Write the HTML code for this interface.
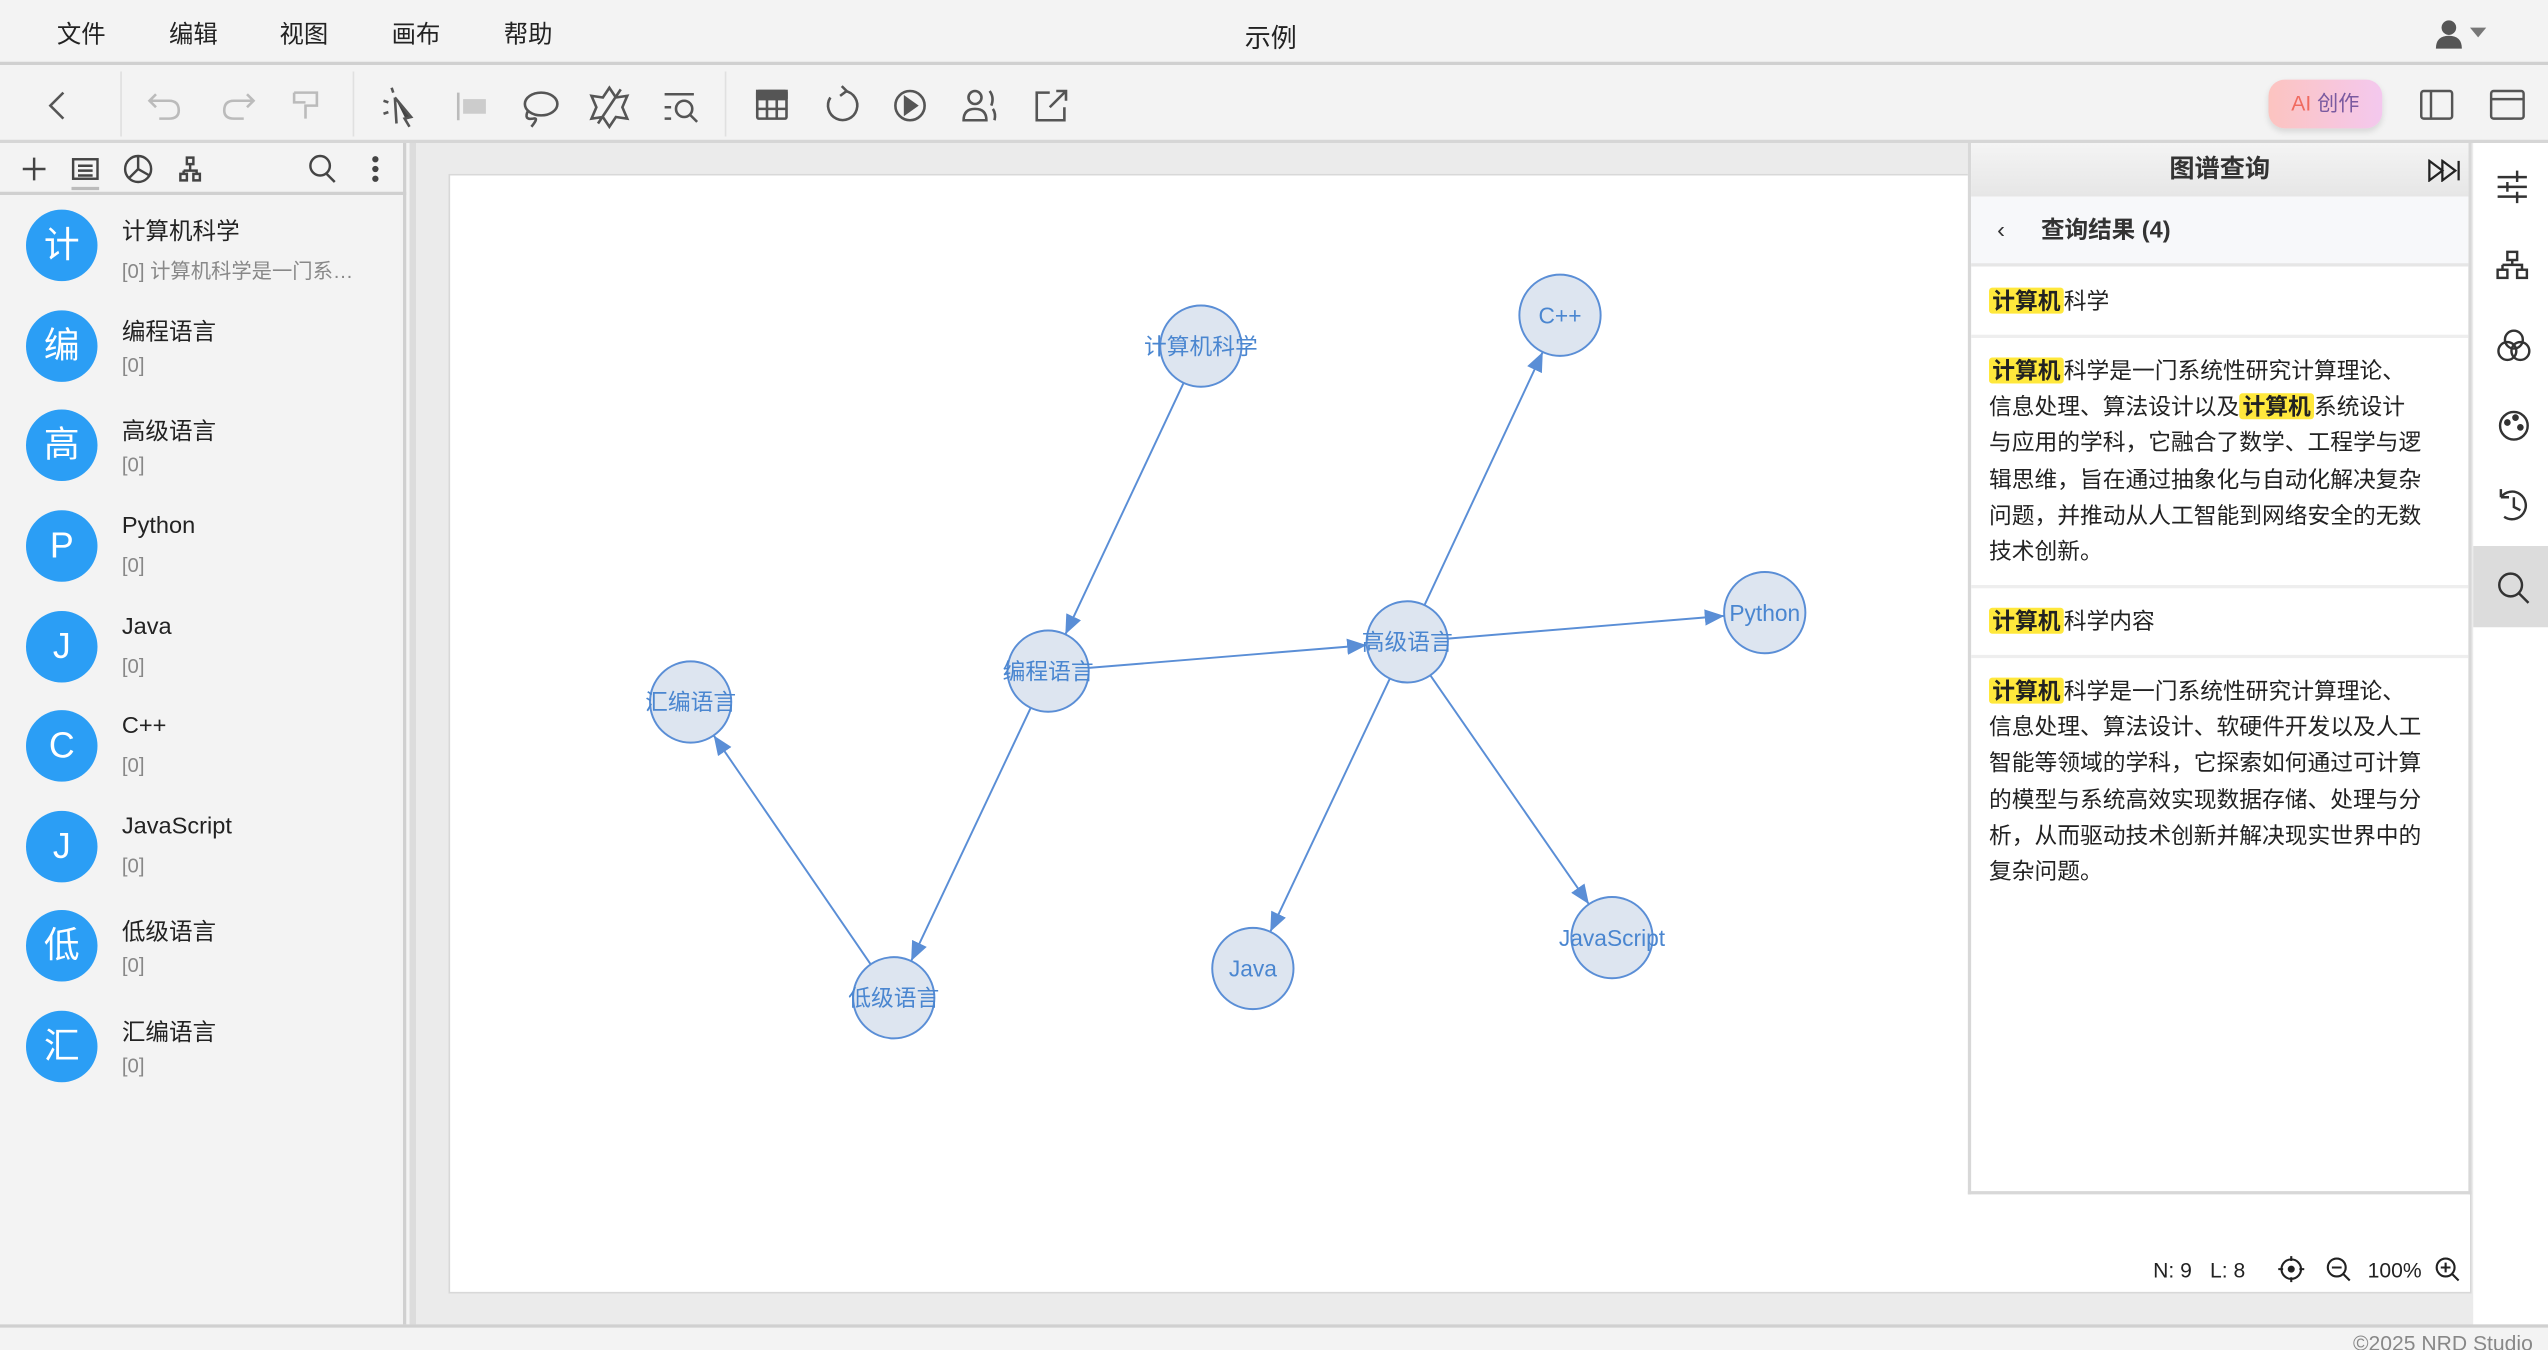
<!DOCTYPE html>
<html><head><meta charset="utf-8">
<style>
*{box-sizing:border-box;margin:0;padding:0}
html,body{width:2548px;height:1350px;overflow:hidden;background:#f3f3f3}
#root{position:absolute;left:0;top:0;width:1568px;height:831px;transform:scale(1.625);transform-origin:0 0;font-family:"Liberation Sans","Noto Sans CJK SC",sans-serif;color:#222;background:#f3f3f3}
.abs{position:absolute}
.menu span{position:absolute;top:10px;font-size:15px}
.ic{position:absolute;color:#444;font-size:18px}
.item{position:absolute;left:0;width:250px;height:62px}
.av{position:absolute;left:16px;top:8px;width:44px;height:44px;border-radius:50%;background:#2b9ef5;color:#fff;font-size:22px;text-align:center;line-height:44px}
.nm{position:absolute;left:75px;top:10px;font-size:14.5px;color:#222}
.sb{position:absolute;left:75px;top:35px;font-size:12.5px;color:#888;white-space:nowrap}
.hl{background:#ffe83c;font-weight:bold;border-radius:2px;padding:0 2px}
.qp{font-size:14px;line-height:22.2px;color:#222}
.rs{position:absolute;left:1534px;width:26px;height:26px}
</style></head><body><div id="root">
<!-- menu -->
<div class="abs menu" style="left:0;top:0;width:1568px;height:40px;border-bottom:2px solid #d0d0d0">
<span style="left:35px">文件</span><span style="left:104px">编辑</span><span style="left:172px">视图</span><span style="left:241px">画布</span><span style="left:310px">帮助</span>
<span style="left:766px;font-size:16px">示例</span>
<svg class="abs" style="left:1498px;top:12px" width="34" height="18"><circle cx="9" cy="5" r="4.5" fill="#555"/><path d="M1 18 Q1 10 9 10 Q17 10 17 18Z" fill="#555"/><path d="M22 5 L32 5 L27 11Z" fill="#777"/></svg>
</div>
<!-- toolbar -->
<div class="abs" style="left:0;top:40px;width:1568px;height:48px;border-bottom:2px solid #d6d6d6">
<div class="abs" style="left:74px;top:4px;width:1px;height:40px;background:#e0e0e0"></div>
<div class="abs" style="left:217px;top:4px;width:1px;height:40px;background:#e0e0e0"></div>
<div class="abs" style="left:446px;top:4px;width:1px;height:40px;background:#e0e0e0"></div>
<svg class="abs" style="left:0;top:0" width="700" height="48" fill="none" stroke="#555" stroke-width="1.6">
<path d="M39 17 L31 25 L39 33"/>
<g stroke="#bbb"><path d="M96 18 L92 22 L96 26 M92 22 L104 22 Q110 22 110 28 Q110 33 104 33 L98 33"/><path d="M152 18 L156 22 L152 26 M156 22 L144 22 Q138 22 138 28 Q138 33 144 33 L150 33"/><path d="M181 17 H195 V25 H188 V33 M181 17 V23 H188"/></g>
<path d="M243 20 L253 32 L249 33 L252 38 M243 20 L244 36" fill="#444"/><path d="M236 22 l3 1 M241 14 l1 3 M236 30 l3-1"/>
<g stroke="#bbb"><path d="M282 17 V34"/><rect x="285" y="21" width="14" height="9" fill="#ccc" stroke="none"/></g>
<ellipse cx="333" cy="24" rx="10" ry="7"/><path d="M325 28 Q322 34 328 33 Q332 32 327 38"/>
<path d="M375 14 L379 20 L386 19 L383 26 L386 33 L379 32 L375 38 L371 32 L364 33 L367 26 L364 19 L371 20Z M368 36 L382 15"/>
<path d="M409 18 H427 M409 26 H413 M409 33 H413"/><circle cx="421" cy="27" r="5"/><path d="M425 31 L429 35"/>
<rect x="466" y="16" width="18" height="17" rx="1"/><path d="M466 21 H484 M466 27 H484 M472 16 V33 M478 16 V33"/><rect x="466" y="16" width="18" height="4" fill="#555"/>
<path d="M520 16 A9 9 0 1 1 511 20"/><path d="M518 13 L521 16 L517 19"/>
<circle cx="560" cy="25" r="9"/><path d="M557 20 L564 25 L557 30Z" fill="#555"/>
<circle cx="600" cy="20" r="4"/><path d="M593 34 Q593 27 600 27 Q607 27 607 34Z M609 16 Q612 20 610 25 M611 27 Q613 30 612 34"/>
<path d="M646 17 H638 V34 H655 V26 M646 26 L656 16 M650 16 H656 V22"/>
</svg>
<div class="abs" style="left:1396px;top:9px;width:70px;height:30px;border-radius:10px;background:linear-gradient(90deg,#fcc4c0,#f4c8ee);box-shadow:0 2px 4px rgba(0,0,0,.12);font-size:13px;line-height:30px;text-align:center"><span style="color:#f06a5f">AI</span> <span style="color:#7a5aa0">创作</span></div>
<svg class="abs" style="left:1480px;top:0" width="88" height="48" fill="none" stroke="#555" stroke-width="1.5"><rect x="10" y="16" width="19" height="17" rx="1.5"/><path d="M16 16 V33"/><rect x="53" y="16" width="20" height="17" rx="1.5"/><path d="M53 21 H73"/></svg>
</div>
<!-- left panel -->
<div class="abs" style="left:0;top:88px;width:250px;height:727px;background:#f3f3f3;border-right:2px solid #d0d0d0">
<div class="abs" style="left:0;top:0;width:250px;height:32px;border-bottom:2px solid #d0d0d0"></div>
<svg class="abs" style="left:0;top:0" width="250" height="32" fill="none" stroke="#444" stroke-width="1.5"><path d="M14 16 H28 M21 9 V23"/><rect x="45" y="10" width="15" height="12"/><path d="M48 14 H57 M48 17 H57 M48 20 H57"/><rect x="44" y="27" width="17" height="2" fill="#bbb" stroke="none"/><circle cx="85" cy="16" r="8"/><path d="M85 8 V16 L92 20 M85 16 L79 22"/><path d="M115 9 h4 v4 h-4z M111 19 h4 v4 h-4z M119 19 h4 v4 h-4z M117 13 V17 M113 17 H121 V19 M113 17 V19"/><circle cx="197" cy="14" r="6"/><path d="M201 19 L206 24"/><circle cx="231" cy="10" r="1.2" fill="#444"/><circle cx="231" cy="16" r="1.2" fill="#444"/><circle cx="231" cy="22" r="1.2" fill="#444"/></svg>
</div>
<div class="item" style="top:121px"><div class="av">计</div><div class="nm">计算机科学</div><div class="sb">[0] 计算机科学是一门系…</div></div>
<div class="item" style="top:183px"><div class="av">编</div><div class="nm">编程语言</div><div class="sb">[0]</div></div>
<div class="item" style="top:244px"><div class="av">高</div><div class="nm">高级语言</div><div class="sb">[0]</div></div>
<div class="item" style="top:306px"><div class="av">P</div><div class="nm">Python</div><div class="sb">[0]</div></div>
<div class="item" style="top:368px"><div class="av">J</div><div class="nm">Java</div><div class="sb">[0]</div></div>
<div class="item" style="top:429px"><div class="av">C</div><div class="nm">C++</div><div class="sb">[0]</div></div>
<div class="item" style="top:491px"><div class="av">J</div><div class="nm">JavaScript</div><div class="sb">[0]</div></div>
<div class="item" style="top:552px"><div class="av">低</div><div class="nm">低级语言</div><div class="sb">[0]</div></div>
<div class="item" style="top:614px"><div class="av">汇</div><div class="nm">汇编语言</div><div class="sb">[0]</div></div>
<!-- canvas area -->
<div class="abs" style="left:252px;top:88px;width:1270px;height:727px;background:#ebebeb;border-left:4px solid #dcdcdc"></div>
<div class="abs" style="left:276px;top:107px;width:1245px;height:689px;background:#fff;border:1px solid #d8d8d8"></div>
<svg class="abs" style="left:0;top:0" width="1568" height="831" font-family="Liberation Sans,Noto Sans CJK SC,sans-serif">
<defs><marker id="a" markerUnits="userSpaceOnUse" markerWidth="14" markerHeight="12" refX="12" refY="5" orient="auto"><path d="M0 0 L12 5 L0 10Z" fill="#5a8ed6"/></marker></defs>
<g stroke="#5a8ed6" stroke-width="1.2" marker-end="url(#a)">
<line x1="728.4" y1="235.6" x2="655.6" y2="390.4"/>
<line x1="670" y1="411" x2="841" y2="397"/>
<line x1="634.3" y1="435.6" x2="560.7" y2="591.4"/>
<line x1="535.8" y1="593.4" x2="439.2" y2="452.6"/>
<line x1="876.6" y1="372.4" x2="949.4" y2="216.6"/>
<line x1="890.9" y1="393" x2="1061.1" y2="379"/>
<line x1="855.3" y1="417.6" x2="781.7" y2="573.4"/>
<line x1="880.2" y1="415.6" x2="977.8" y2="556.4"/>
</g>
<g fill="#dde5f0" stroke="#5a8ed6" stroke-width="1.2">
<circle cx="739" cy="213" r="25"/><circle cx="960" cy="194" r="25"/><circle cx="645" cy="413" r="25"/><circle cx="866" cy="395" r="25"/><circle cx="1086" cy="377" r="25"/><circle cx="425" cy="432" r="25"/><circle cx="550" cy="614" r="25"/><circle cx="771" cy="596" r="25"/><circle cx="992" cy="577" r="25"/>
</g>
<g fill="#4a86d0" font-size="14" text-anchor="middle">
<text x="739" y="218">计算机科学</text><text x="960" y="199">C++</text><text x="645" y="418">编程语言</text><text x="866" y="400">高级语言</text><text x="1086" y="382">Python</text><text x="425" y="437">汇编语言</text><text x="550" y="619">低级语言</text><text x="771" y="601">Java</text><text x="992" y="582">JavaScript</text>
</g>
<g font-size="13" fill="#222"><text x="1325" y="786">N: 9</text><text x="1360" y="786">L: 8</text><text x="1457" y="786">100%</text></g>
<g fill="none" stroke="#222" stroke-width="1.3"><circle cx="1410" cy="781" r="6"/><circle cx="1410" cy="781" r="1.5" fill="#222"/><path d="M1410 773 V776 M1410 786 V789 M1402 781 H1405 M1415 781 H1418"/><circle cx="1438" cy="780" r="5.5"/><path d="M1435 780 H1441 M1442 784 L1446 788"/><circle cx="1505" cy="780" r="5.5"/><path d="M1502 780 H1508 M1505 777 V783 M1509 784 L1513 788"/><path d="M1536 774 L1543 781 L1536 788 L1529 781Z"/><circle cx="1536" cy="781" r="2.5"/></g>
<text x="1448" y="831" font-size="13" fill="#888">©2025 NRD Studio</text>
</svg>
<!-- query panel -->
<div class="abs" style="left:1211px;top:88px;width:310px;height:647px;background:#fff;border:2px solid #d8d8d8;border-top:none">
<div class="abs" style="left:0;top:0;width:306px;height:33px;background:linear-gradient(#f4f4f4,#e6e6e6);text-align:center;font-size:15.5px;font-weight:bold;line-height:33px;color:#333">图谱查询</div>
<svg class="abs" style="left:281px;top:10px" width="22" height="14" fill="none" stroke="#222" stroke-width="1.4"><path d="M1 1 L9 7 L1 13Z M9 1 L17 7 L9 13Z M19 1 V13"/></svg>
<div class="abs" style="left:0;top:33px;width:306px;height:43px;background:#f7f8fa;border-bottom:2px solid #e6e6e6;font-size:14.5px;font-weight:bold;line-height:42px;color:#333"><span style="position:absolute;left:16px;font-weight:normal">‹</span><span style="position:absolute;left:43px">查询结果 (4)</span></div>
<div class="abs qp" style="left:11px;top:86px">
<span class="hl">计算机</span>科学</div>
<div class="abs" style="left:0;top:118px;width:306px;height:2px;background:#eee"></div>
<div class="abs qp" style="left:11px;top:129px;white-space:nowrap"><span class="hl">计算机</span>科学是一门系统性研究计算理论、<br>信息处理、算法设计以及<span class="hl">计算机</span>系统设计<br>与应用的学科，它融合了数学、工程学与逻<br>辑思维，旨在通过抽象化与自动化解决复杂<br>问题，并推动从人工智能到网络安全的无数<br>技术创新。</div>
<div class="abs" style="left:0;top:272px;width:306px;height:2px;background:#eee"></div>
<div class="abs qp" style="left:11px;top:283px"><span class="hl">计算机</span>科学内容</div>
<div class="abs" style="left:0;top:315px;width:306px;height:2px;background:#eee"></div>
<div class="abs qp" style="left:11px;top:326px;white-space:nowrap"><span class="hl">计算机</span>科学是一门系统性研究计算理论、<br>信息处理、算法设计、软硬件开发以及人工<br>智能等领域的学科，它探索如何通过可计算<br>的模型与系统高效实现数据存储、处理与分<br>析，从而驱动技术创新并解决现实世界中的<br>复杂问题。</div>
</div>
<!-- right sidebar -->
<div class="abs" style="left:1522px;top:88px;width:46px;height:727px;background:#fff"></div>
<div class="abs" style="left:1522px;top:336px;width:46px;height:50px;background:#dcdcdc"></div>
<svg class="abs" style="left:1522px;top:88px" width="46" height="300" fill="none" stroke="#333" stroke-width="1.5">
<path d="M15 21 H33 M15 27 H33 M15 33 H33 M27 17 V24 M21 24 V30 M27 30 V37"/>
<rect x="21" y="67" width="6" height="5"/><rect x="15" y="78" width="6" height="5"/><rect x="27" y="78" width="6" height="5"/><path d="M24 72 V75 M18 75 H30 V78 M18 75 V78"/>
<circle cx="25" cy="121" r="5.5"/><circle cx="21" cy="128" r="5.5"/><circle cx="29" cy="128" r="5.5"/>
<circle cx="25" cy="174" r="8.5"/><circle cx="21" cy="172" r="1.3" fill="#333"/><circle cx="26" cy="169" r="1.3" fill="#333"/><circle cx="29" cy="175" r="1.3" fill="#333"/>
<path d="M17 218 A8.5 8.5 0 1 1 19 230 M17 218 V213 M17 218 H22 M25 218 V224 L29 226"/>
<circle cx="23" cy="272" r="7"/><path d="M28 277 L34 283"/>
</svg>
<div class="abs" style="left:0;top:815px;width:1568px;height:2px;background:#d0d0d0"></div>
</div></body></html>
